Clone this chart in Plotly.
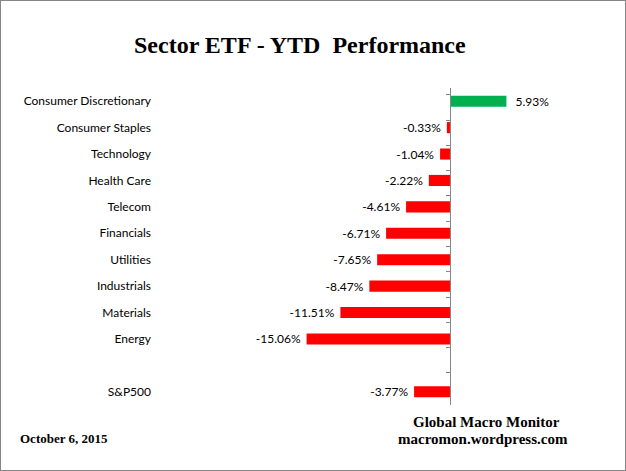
import plotly.graph_objects as go

# Sector ETF year-to-date returns (%), top to bottom, blank slot before S&P500
sectors = ["Consumer Discretionary", "Consumer Staples", "Technology", "Health Care",
           "Telecom", "Financials", "Utilities", "Industrials", "Materials", "Energy",
           " ", "S&P500"]
ytd = [5.93, -0.33, -1.04, -2.22, -4.61, -6.71, -7.65, -8.47, -11.51, -15.06, None, -3.77]

pad = "\u00a0"
labels = []
for v in ytd:
    if v is None:
        labels.append("")
    elif v > 0:
        labels.append(pad * 2 + f"{v:.2f}%")
    else:
        labels.append(f"{v:.2f}%" + pad)
colors = ["#00B050" if (v is not None and v > 0) else "#FF0000" for v in ytd]

W, H = 626, 471
x_dom = [160 / W, 600 / W]
y_dom = [1 - 405 / H, 1 - 88 / H]
x_range = [-30.46, 15.76]
zero_pos = x_dom[0] + (0 - x_range[0]) / (x_range[1] - x_range[0]) * (x_dom[1] - x_dom[0])

fig = go.Figure()

fig.add_trace(go.Bar(
    x=ytd, y=sectors, orientation="h",
    marker=dict(color=colors, line=dict(width=0)),
    width=0.42,
    text=labels, textposition="outside", cliponaxis=False, constraintext="none",
    textfont=dict(family="Lato, Open Sans, sans-serif", size=12, color="#000000"),
    hoverinfo="skip",
))

# dummy trace so the axis through zero gets drawn with boundary ticks
fig.add_trace(go.Scatter(x=[None] * len(sectors), y=sectors, yaxis="y2",
                         mode="markers", showlegend=False, hoverinfo="skip"))

fig.update_layout(
    width=W, height=H,
    margin=dict(l=0, r=0, t=0, b=0),
    paper_bgcolor="white", plot_bgcolor="white",
    showlegend=False,
    font=dict(family="Lato, Open Sans, sans-serif", size=12, color="#000000"),
    xaxis=dict(domain=x_dom, range=x_range, visible=False, fixedrange=True),
    yaxis=dict(domain=y_dom, type="category", categoryorder="array",
               categoryarray=sectors, autorange="reversed",
               showline=False, ticks="", showgrid=False, zeroline=False,
               ticklabelstandoff=8,
               tickfont=dict(family="Lato, Open Sans, sans-serif", size=12, color="#000000")),
    yaxis2=dict(overlaying="y", anchor="free", position=zero_pos,
                type="category", categoryorder="array", categoryarray=sectors,
                autorange="reversed", showticklabels=False, showgrid=False,
                showline=True, linecolor="#868686", linewidth=1,
                ticks="outside", tickson="boundaries", ticklen=4,
                tickcolor="#868686", tickwidth=1),
    shapes=[dict(type="rect", xref="paper", yref="paper", x0=0, y0=0, x1=1, y1=1,
                 line=dict(color="#868686", width=2), fillcolor="rgba(0,0,0,0)")],
    annotations=[
        dict(text="<b>Sector ETF - YTD  Performance</b>", xref="paper", yref="paper",
             x=300 / W, y=1 - 45 / H, xanchor="center", yanchor="middle", showarrow=False,
             font=dict(family="Liberation Serif, serif", size=24, color="#000000")),
        dict(text="<b>October 6, 2015</b>", xref="paper", yref="paper",
             x=18 / W, y=1 - 438 / H, xanchor="left", yanchor="middle", showarrow=False,
             font=dict(family="Liberation Serif, serif", size=13, color="#000000")),
        dict(text="<b>Global Macro Monitor</b>", xref="paper", yref="paper",
             x=486 / W, y=1 - 422 / H, xanchor="center", yanchor="middle", showarrow=False,
             font=dict(family="Liberation Serif, serif", size=15, color="#000000")),
        dict(text="<b>macromon.wordpress.com</b>", xref="paper", yref="paper",
             x=483 / W, y=1 - 439 / H, xanchor="center", yanchor="middle", showarrow=False,
             font=dict(family="Liberation Serif, serif", size=15, color="#000000")),
    ],
)

fig.write_html("out.html", config={"displayModeBar": False},
               post_script="document.body.style.margin='0';")
